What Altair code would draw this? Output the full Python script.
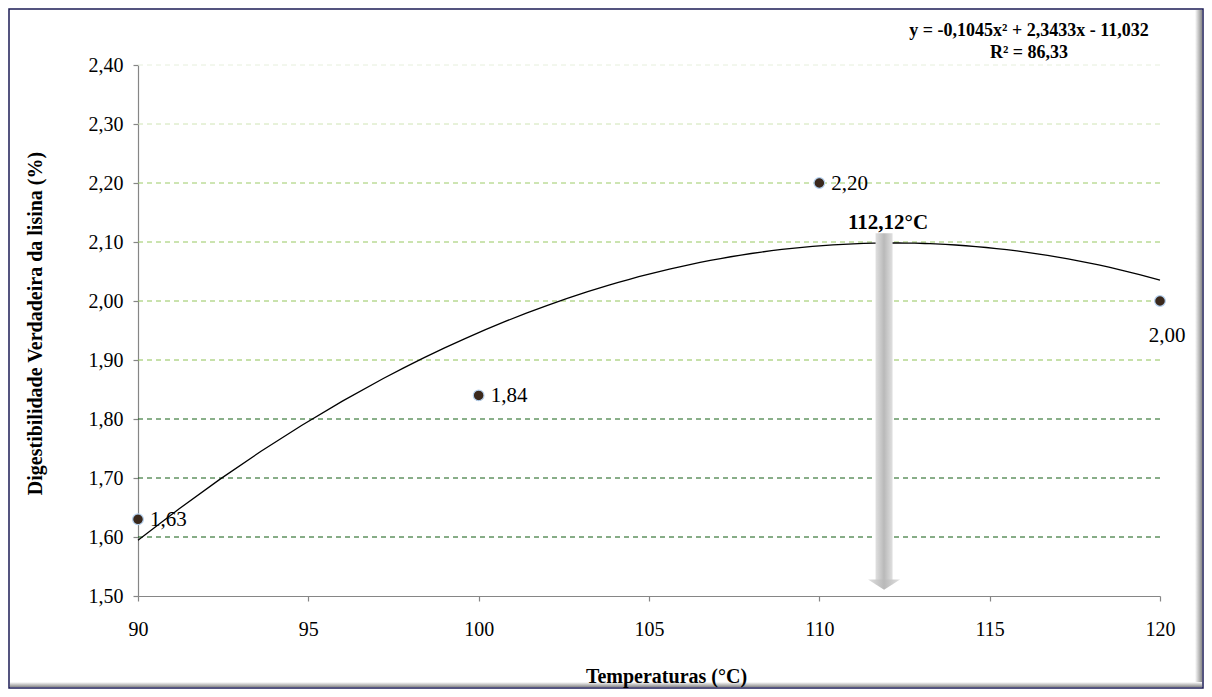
import altair as alt
import pandas as pd

# ---- data ----
temps = [90, 100, 110, 120]
digest = [1.63, 1.84, 2.20, 2.00]
y_ticks = [1.5, 1.6, 1.7, 1.8, 1.9, 2.0, 2.1, 2.2, 2.3, 2.4]
x_ticks = [90, 95, 100, 105, 110, 115, 120]
grid_vals = [1.6, 1.7, 1.8, 1.9, 2.0, 2.1, 2.2, 2.3, 2.4]
opt_label = "112,12°C"
arrow_x = [111.9]
arrow_top = [2.115]
arrow_end = [1.52]
equation = "y = -0,1045x² + 2,3433x - 11,032"
r2_text = "R² = 86,33"

# ---- layout ----
W, H = 1022, 531
PL, PT = 130, 57
SVG_W, SVG_H = 1196, 681
FONT = "Liberation Serif"

pts = pd.DataFrame({"T": temps, "D": digest})
grid = pd.DataFrame({"g": grid_vals})
arrow = pd.DataFrame({"ax": arrow_x, "top": arrow_top, "end": arrow_end})
one = pd.DataFrame({"a": [0]})

xscale = alt.Scale(domain=[90, 120], nice=False, zero=False)
yscale = alt.Scale(domain=[1.5, 2.4], nice=False, zero=False)
XT = "Temperaturas (°C)"
YT = "Digestibilidade Verdadeira da lisina (%)"

x_axis = alt.Axis(values=x_ticks, format="d", title=XT, grid=False,
                  tickSize=5, labelPadding=18, zindex=1, labelFlush=False,
                  titleX=528, titleY=80, titleBaseline="middle")
y_axis = alt.Axis(values=y_ticks, title=YT, grid=False, tickSize=5, labelPadding=10,
                  labelFlush=False,
                  labelExpr="replace(format(datum.value, '.2f'), '.', ',')",
                  titleX=-103, titleY=258, titleAngle=270, titleBaseline="middle")

# gridlines (dashed, green shades)
grid_layer = alt.Chart(grid).mark_rule(strokeDash=[5, 4], strokeWidth=1).encode(
    y=alt.Y("g:Q", scale=yscale, title=YT),
    color=alt.Color("g:Q", legend=None,
                    scale=alt.Scale(domain=[1.6, 1.8, 1.85, 2.2, 2.3, 2.4],
                                    range=["#0f5a0f", "#146014", "#8cc152", "#9ccb66", "#cfe4b4", "#e6efdc"])),
)

# quadratic trend line fitted by the library
curve = alt.Chart(pts).transform_regression(
    "T", "D", method="poly", order=2, extent=[90, 120]
).mark_line(color="black", strokeWidth=1.3).encode(
    x=alt.X("T:Q", scale=xscale, axis=x_axis),
    y=alt.Y("D:Q", scale=yscale, axis=y_axis),
)

shaft_grad = alt.LinearGradient(
    gradient="linear", x1=0, x2=1, y1=0, y2=0,
    stops=[alt.GradientStop(offset=0, color="#e0e0e0"),
           alt.GradientStop(offset=0.5, color="#b9b9b9"),
           alt.GradientStop(offset=1, color="#e0e0e0")])

shaft = alt.Chart(arrow).transform_calculate(
    x1="datum.ax - 0.25", x2="datum.ax + 0.25"
).mark_rect(fill=shaft_grad).encode(
    x=alt.X("x1:Q", scale=xscale, title=XT), x2="x2:Q",
    y=alt.Y("top:Q", scale=yscale, title=YT), y2="end:Q",
)

head = alt.Chart(arrow).mark_point(
    shape="M-1,-0.3L1,-0.3L0,0.35Z", size=1024, filled=True,
    fill=shaft_grad, opacity=1, strokeWidth=0
).encode(
    x=alt.X("ax:Q", scale=xscale, title=XT),
    y=alt.Y("end:Q", scale=yscale, title=YT),
)

opt_text = alt.Chart(arrow).mark_text(
    text=opt_label, font=FONT, fontSize=21, fontWeight="bold", dy=-10, dx=4, color="black"
).encode(
    x=alt.X("ax:Q", scale=xscale, title=XT),
    y=alt.Y("top:Q", scale=yscale, title=YT),
)

points = alt.Chart(pts).mark_circle(
    size=115, color="#3a281c", stroke="#b4d0ee", strokeWidth=1.2, opacity=1
).encode(
    x=alt.X("T:Q", scale=xscale, title=XT),
    y=alt.Y("D:Q", scale=yscale, title=YT),
)

lbl_expr = "replace(format(datum.D, '.2f'), '.', ',')"
labels_right = alt.Chart(pts).transform_filter("datum.T < 120").transform_calculate(
    lbl=lbl_expr
).mark_text(align="left", baseline="middle", dx=12, dy=1, font=FONT, fontSize=21, color="black").encode(
    x=alt.X("T:Q", scale=xscale, title=XT),
    y=alt.Y("D:Q", scale=yscale, title=YT),
    text="lbl:N",
)
labels_below = alt.Chart(pts).transform_filter("datum.T == 120").transform_calculate(
    lbl=lbl_expr
).mark_text(align="center", baseline="middle", dx=7, dy=35, font=FONT, fontSize=21, color="black").encode(
    x=alt.X("T:Q", scale=xscale, title=XT),
    y=alt.Y("D:Q", scale=yscale, title=YT),
    text="lbl:N",
)

eq1 = alt.Chart(one).mark_text(
    text=equation, font=FONT, fontSize=18, fontWeight="bold", color="black", align="center", baseline="middle"
).encode(x=alt.value(891), y=alt.value(-34))
eq2 = alt.Chart(one).mark_text(
    text=r2_text, font=FONT, fontSize=18, fontWeight="bold", color="black", align="center", baseline="middle"
).encode(x=alt.value(891), y=alt.value(-12))

# outer frame with shadow
right_grad = alt.LinearGradient(
    gradient="linear", x1=0, x2=1, y1=0, y2=0,
    stops=[alt.GradientStop(offset=0, color="#ffffff"),
           alt.GradientStop(offset=1, color="#8a8a8a")])
bottom_grad = alt.LinearGradient(
    gradient="linear", x1=0, x2=0, y1=0, y2=1,
    stops=[alt.GradientStop(offset=0, color="#ffffff"),
           alt.GradientStop(offset=1, color="#8a8a8a")])
shadow_r = alt.Chart(one).mark_rect(fill=right_grad).encode(
    x=alt.value(SVG_W - PL - 9), x2=alt.value(SVG_W - PL - 2),
    y=alt.value(-PT + 2), y2=alt.value(SVG_H - PT - 2))
shadow_b = alt.Chart(one).mark_rect(fill=bottom_grad).encode(
    x=alt.value(-PL + 2), x2=alt.value(SVG_W - PL - 2),
    y=alt.value(SVG_H - PT - 7), y2=alt.value(SVG_H - PT - 2))
frame = alt.Chart(one).mark_rect(fill="transparent", stroke="#1d1d55", strokeWidth=1.5).encode(
    x=alt.value(-PL + 1), x2=alt.value(SVG_W - PL - 1),
    y=alt.value(-PT + 1), y2=alt.value(SVG_H - PT - 1))

chart = alt.layer(
    shadow_r, shadow_b, frame,
    grid_layer, curve, shaft, head, opt_text, points, labels_right, labels_below, eq1, eq2
).resolve_scale(color="independent").properties(
    width=W, height=H,
    background="white",
    autosize=alt.AutoSizeParams(type="none"),
    padding={"left": PL, "top": PT, "right": SVG_W - PL - W, "bottom": SVG_H - PT - H},
).configure_view(stroke=None).configure_axis(
    labelFont=FONT, labelFontSize=20, labelColor="black",
    titleFont=FONT, titleFontSize=20, titleFontWeight="bold", titleColor="black",
    domainColor="#868686", tickColor="#868686", domainWidth=1.2, tickWidth=1.2,
)

chart.save("out.html", embed_options={"renderer": "svg", "actions": False})
